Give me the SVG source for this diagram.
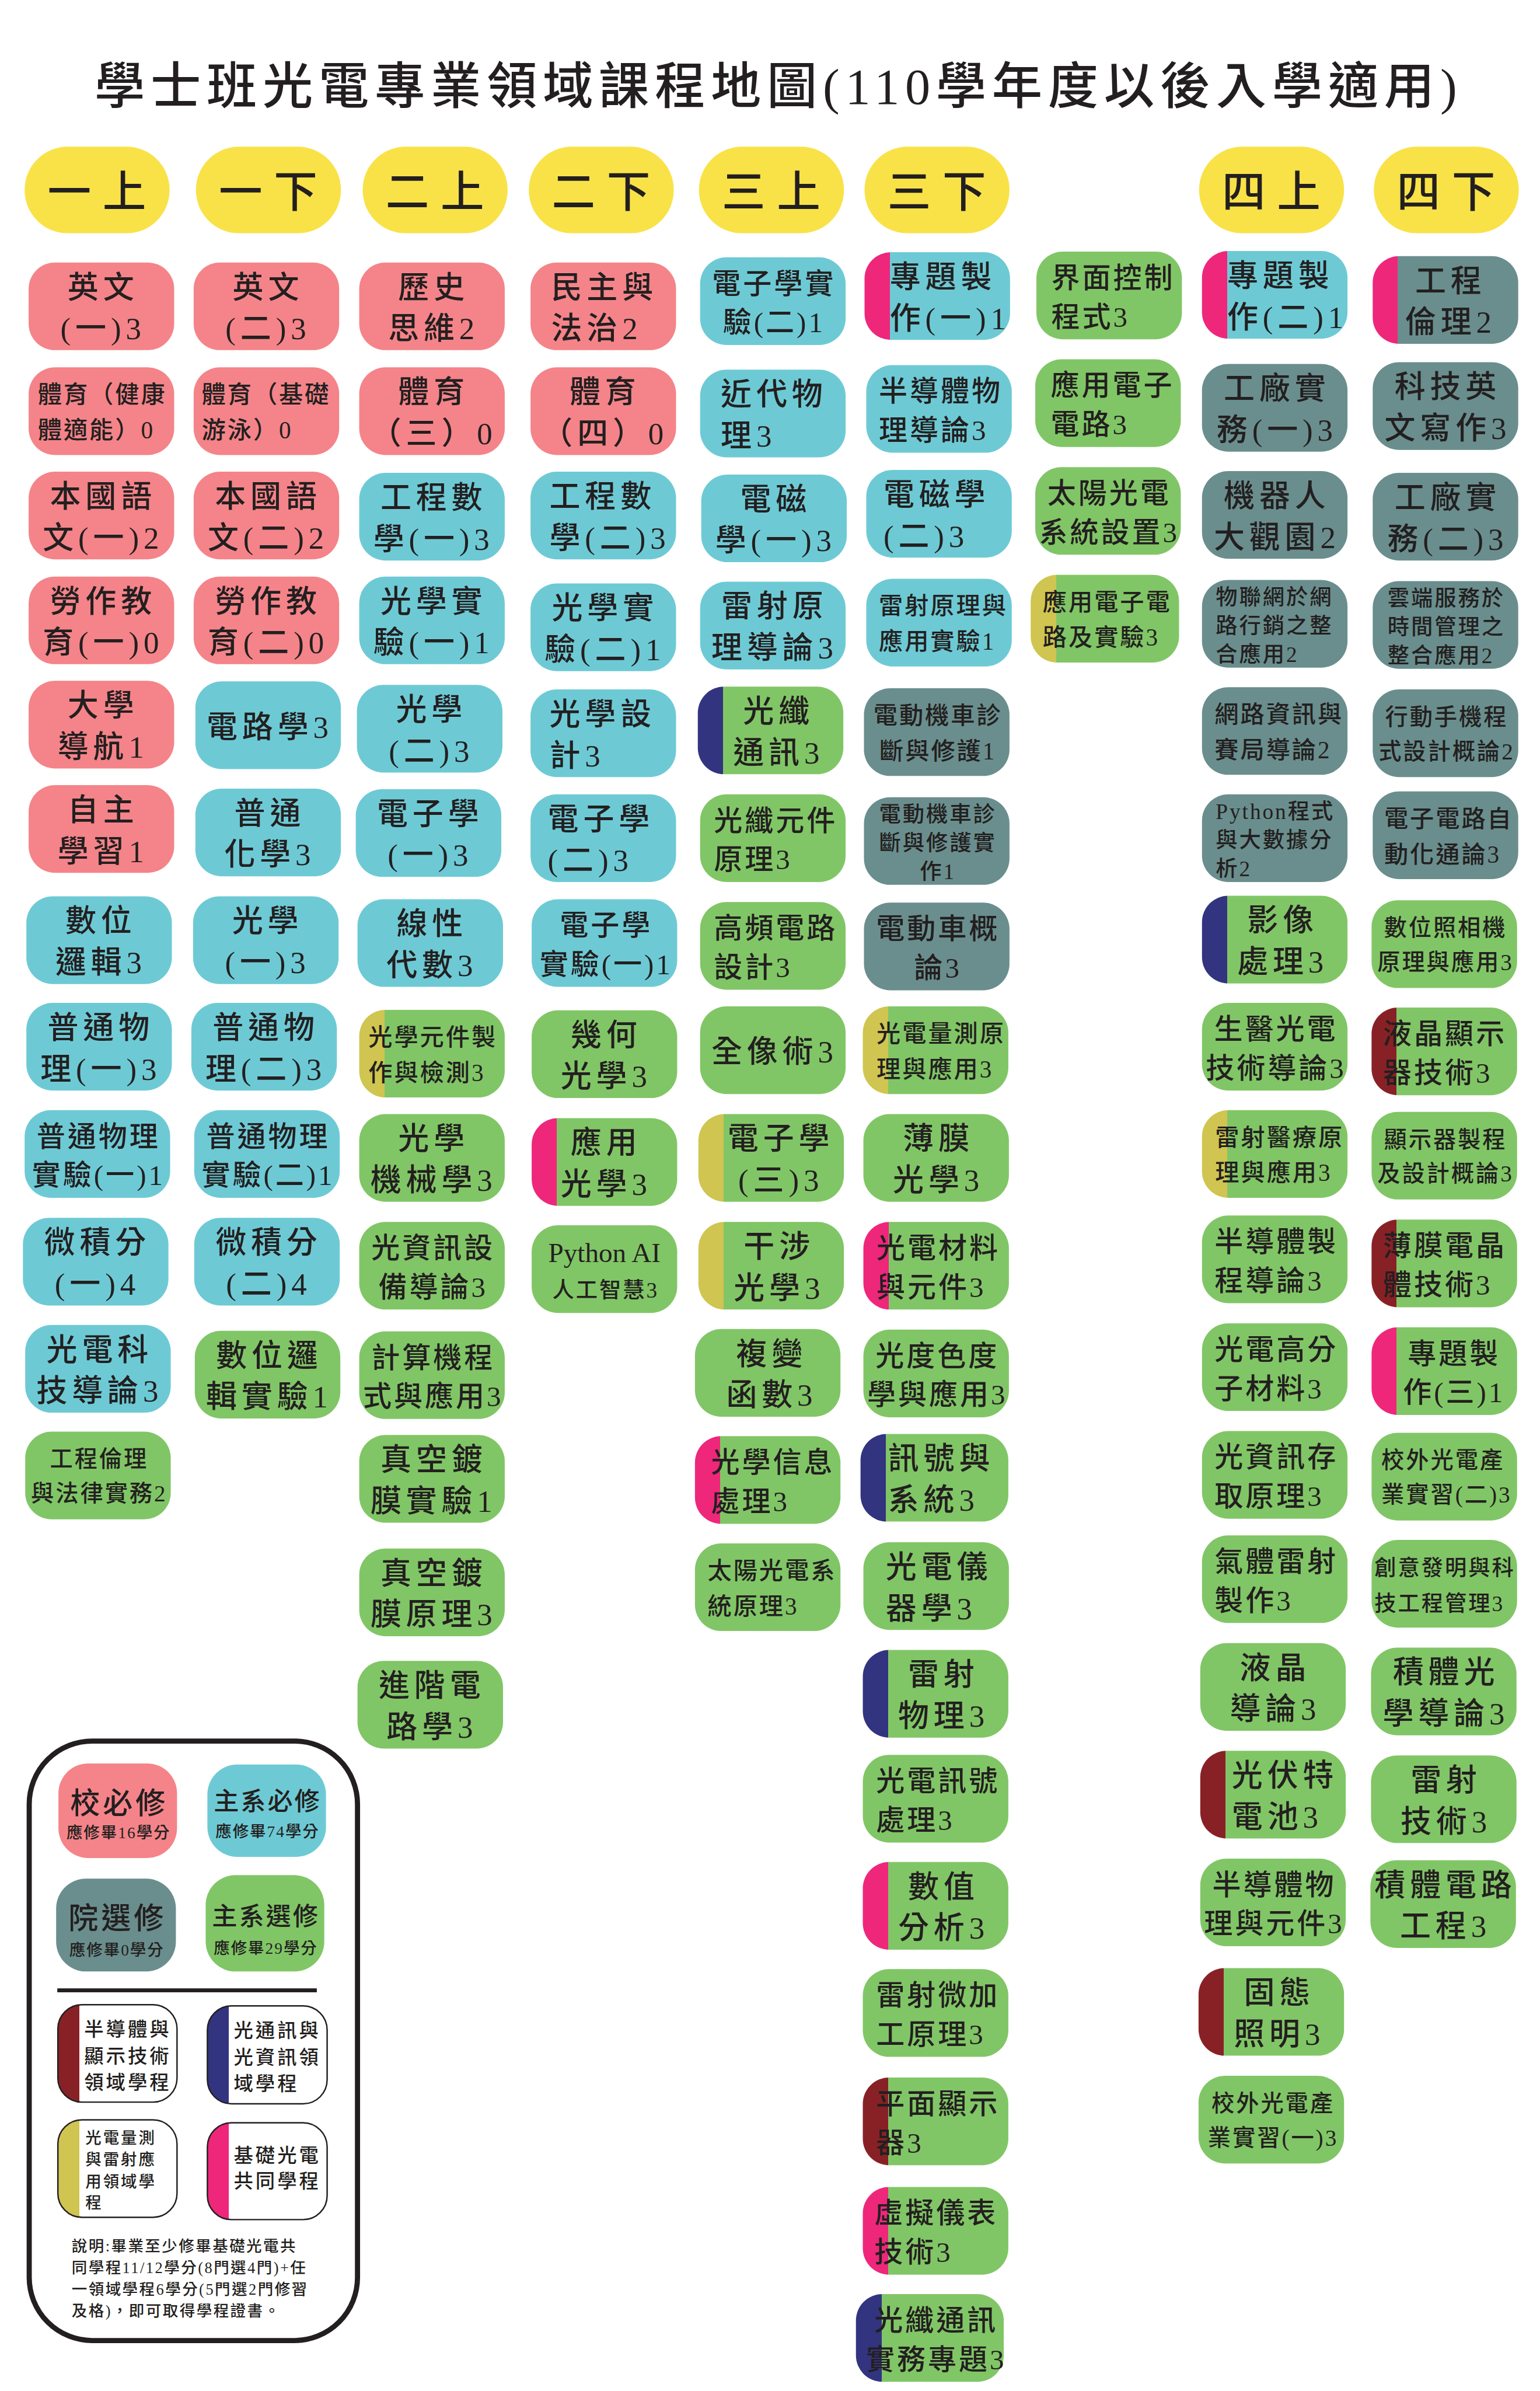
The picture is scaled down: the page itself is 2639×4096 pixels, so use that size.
<svg xmlns="http://www.w3.org/2000/svg" width="2639" height="4096" viewBox="0 0 2639 4096">
<defs>
<linearGradient id="gPB" x1="0" x2="1" y1="0" y2="0"><stop offset="0.173" stop-color="#ee277b"/><stop offset="0.173" stop-color="#6dcad5"/></linearGradient>
<linearGradient id="gPK" x1="0" x2="1" y1="0" y2="0"><stop offset="0.173" stop-color="#ee277b"/><stop offset="0.173" stop-color="#6a8e8d"/></linearGradient>
<linearGradient id="gPG" x1="0" x2="1" y1="0" y2="0"><stop offset="0.173" stop-color="#ee277b"/><stop offset="0.173" stop-color="#81c666"/></linearGradient>
<linearGradient id="gNG" x1="0" x2="1" y1="0" y2="0"><stop offset="0.173" stop-color="#323480"/><stop offset="0.173" stop-color="#81c666"/></linearGradient>
<linearGradient id="gYG" x1="0" x2="1" y1="0" y2="0"><stop offset="0.173" stop-color="#cfc550"/><stop offset="0.173" stop-color="#81c666"/></linearGradient>
<linearGradient id="gRG" x1="0" x2="1" y1="0" y2="0"><stop offset="0.173" stop-color="#882126"/><stop offset="0.173" stop-color="#81c666"/></linearGradient>
<linearGradient id="gRW" x1="0" x2="1" y1="0" y2="0"><stop offset="0.18" stop-color="#882126"/><stop offset="0.18" stop-color="#ffffff"/></linearGradient>
<linearGradient id="gNW" x1="0" x2="1" y1="0" y2="0"><stop offset="0.18" stop-color="#323480"/><stop offset="0.18" stop-color="#ffffff"/></linearGradient>
<linearGradient id="gYW" x1="0" x2="1" y1="0" y2="0"><stop offset="0.18" stop-color="#cfc550"/><stop offset="0.18" stop-color="#ffffff"/></linearGradient>
<linearGradient id="gPW" x1="0" x2="1" y1="0" y2="0"><stop offset="0.18" stop-color="#ee277b"/><stop offset="0.18" stop-color="#ffffff"/></linearGradient>
</defs>
<style>
text{font-family:"Liberation Serif","Noto Sans CJK TC",serif;fill:#231f20;font-weight:500}
.c{text-anchor:middle}
.A{font-size:54px;letter-spacing:8px}
.B{font-size:50px;letter-spacing:4px}
.C{font-size:42px;letter-spacing:3px}
.D{font-size:40px;letter-spacing:3px}
.E{font-size:38px;letter-spacing:3px}
.H{font-size:76px;letter-spacing:20px}
.Py{font-size:48px}
.L52{font-size:52px;letter-spacing:5px}
.L44{font-size:44px;letter-spacing:3px}
.s28{font-size:28px;letter-spacing:2px}
.s34{font-size:34px;letter-spacing:4px}
.s28b{font-size:28px;letter-spacing:3px}
.s27{font-size:27px;letter-spacing:2.5px}
.p{fill:#f48489}.b{fill:#6dcad5}.k{fill:#6a8e8d}.g{fill:#81c666}.h{fill:#f9e247}
.lg{stroke:#231f20;stroke-width:2.5}
</style>
<rect width="2639" height="4096" fill="#ffffff"/>
<g transform="scale(0.98177)">
<g id="title"><text x="165" y="181" font-size="88" textLength="2378" lengthAdjust="spacing">學士班光電專業領域課程地圖(110學年度以後入學適用)</text></g>

<g id="headers">
<g id="h-1a"><rect class="h" x="43" y="256" width="253" height="151" rx="75"/><text class="H c" x="179" y="362">一上</text></g>
<g id="h-1b"><rect class="h" x="342" y="256" width="253" height="151" rx="75"/><text class="H c" x="478" y="362">一下</text></g>
<g id="h-2a"><rect class="h" x="633" y="256" width="253" height="151" rx="75"/><text class="H c" x="769" y="362">二上</text></g>
<g id="h-2b"><rect class="h" x="923" y="256" width="253" height="151" rx="75"/><text class="H c" x="1059" y="362">二下</text></g>
<g id="h-3a"><rect class="h" x="1220" y="256" width="253" height="151" rx="75"/><text class="H c" x="1356" y="362">三上</text></g>
<g id="h-3b"><rect class="h" x="1509" y="256" width="253" height="151" rx="75"/><text class="H c" x="1645" y="362">三下</text></g>
<g id="h-4a"><rect class="h" x="2093" y="256" width="253" height="151" rx="75"/><text class="H c" x="2229" y="362">四上</text></g>
<g id="h-4b"><rect class="h" x="2398" y="256" width="253" height="151" rx="75"/><text class="H c" x="2534" y="362">四下</text></g>
</g>

<g id="col0">
<g id="n-c0-1"><rect class="p" x="50" y="458" width="254" height="153" rx="46"/><text class="A c"><tspan x="180" y="520">英文</tspan><tspan x="180" y="592">(一)3</tspan></text></g>
<g id="n-c0-2"><rect class="p" x="50" y="641" width="254" height="153" rx="46"/><text class="C"><tspan x="66" y="703">體育（健康</tspan><tspan x="66" y="765">體適能）0</tspan></text></g>
<g id="n-c0-3"><rect class="p" x="50" y="823" width="254" height="153" rx="46"/><text class="A c"><tspan x="180" y="885">本國語</tspan><tspan x="180" y="957">文(一)2</tspan></text></g>
<g id="n-c0-4"><rect class="p" x="50" y="1006" width="254" height="153" rx="46"/><text class="A c"><tspan x="180" y="1068">勞作教</tspan><tspan x="180" y="1140">育(一)0</tspan></text></g>
<g id="n-c0-5"><rect class="p" x="50" y="1188" width="254" height="153" rx="46"/><text class="A c"><tspan x="180" y="1250">大學</tspan><tspan x="180" y="1322">導航1</tspan></text></g>
<g id="n-c0-6"><rect class="p" x="50" y="1370" width="254" height="153" rx="46"/><text class="A c"><tspan x="180" y="1432">自主</tspan><tspan x="180" y="1504">學習1</tspan></text></g>
<g id="n-c0-7"><rect class="b" x="46" y="1564" width="254" height="153" rx="46"/><text class="A c"><tspan x="176" y="1626">數位</tspan><tspan x="176" y="1698">邏輯3</tspan></text></g>
<g id="n-c0-8"><rect class="b" x="46" y="1750" width="254" height="153" rx="46"/><text class="A c"><tspan x="176" y="1812">普通物</tspan><tspan x="176" y="1884">理(一)3</tspan></text></g>
<g id="n-c0-9"><rect class="b" x="43" y="1937" width="254" height="153" rx="46"/><text class="B c"><tspan x="172" y="2000">普通物理</tspan><tspan x="172" y="2068">實驗(一)1</tspan></text></g>
<g id="n-c0-10"><rect class="b" x="40" y="2125" width="254" height="153" rx="46"/><text class="A c"><tspan x="170" y="2187">微積分</tspan><tspan x="170" y="2259">(一)4</tspan></text></g>
<g id="n-c0-11"><rect class="b" x="44" y="2312" width="254" height="153" rx="46"/><text class="A c"><tspan x="174" y="2374">光電科</tspan><tspan x="174" y="2446">技導論3</tspan></text></g>
<g id="n-c0-12"><rect class="g" x="44" y="2498" width="254" height="153" rx="46"/><text class="D c"><tspan x="173" y="2560">工程倫理</tspan><tspan x="173" y="2620">與法律實務2</tspan></text></g>
</g>

<g id="col1">
<g id="n-c1-1"><rect class="p" x="338" y="458" width="254" height="153" rx="46"/><text class="A c"><tspan x="468" y="520">英文</tspan><tspan x="468" y="592">(二)3</tspan></text></g>
<g id="n-c1-2"><rect class="p" x="338" y="641" width="254" height="153" rx="46"/><text class="C"><tspan x="352" y="703">體育（基礎</tspan><tspan x="352" y="765">游泳）0</tspan></text></g>
<g id="n-c1-3"><rect class="p" x="338" y="823" width="254" height="153" rx="46"/><text class="A c"><tspan x="468" y="885">本國語</tspan><tspan x="468" y="957">文(二)2</tspan></text></g>
<g id="n-c1-4"><rect class="p" x="338" y="1006" width="254" height="153" rx="46"/><text class="A c"><tspan x="468" y="1068">勞作教</tspan><tspan x="468" y="1140">育(二)0</tspan></text></g>
<g id="n-c1-5"><rect class="b" x="341" y="1189" width="254" height="153" rx="46"/><text class="A c" x="471" y="1287">電路學3</text></g>
<g id="n-c1-6"><rect class="b" x="341" y="1376" width="254" height="153" rx="46"/><text class="A c"><tspan x="471" y="1438">普通</tspan><tspan x="471" y="1510">化學3</tspan></text></g>
<g id="n-c1-7"><rect class="b" x="337" y="1564" width="254" height="153" rx="46"/><text class="A c"><tspan x="467" y="1626">光學</tspan><tspan x="467" y="1698">(一)3</tspan></text></g>
<g id="n-c1-8"><rect class="b" x="334" y="1750" width="254" height="153" rx="46"/><text class="A c"><tspan x="464" y="1812">普通物</tspan><tspan x="464" y="1884">理(二)3</tspan></text></g>
<g id="n-c1-9"><rect class="b" x="339" y="1937" width="254" height="153" rx="46"/><text class="B c"><tspan x="468" y="2000">普通物理</tspan><tspan x="468" y="2068">實驗(二)1</tspan></text></g>
<g id="n-c1-10"><rect class="b" x="339" y="2125" width="254" height="153" rx="46"/><text class="A c"><tspan x="469" y="2187">微積分</tspan><tspan x="469" y="2259">(二)4</tspan></text></g>
<g id="n-c1-11"><rect class="g" x="340" y="2322" width="254" height="153" rx="46"/><text class="A c"><tspan x="470" y="2384">數位邏</tspan><tspan x="470" y="2456">輯實驗1</tspan></text></g>
</g>

<g id="col2">
<g id="n-c2-1"><rect class="p" x="627" y="458" width="254" height="153" rx="46"/><text class="A c"><tspan x="757" y="520">歷史</tspan><tspan x="757" y="592">思維2</tspan></text></g>
<g id="n-c2-2"><rect class="p" x="627" y="641" width="254" height="153" rx="46"/><text class="A c"><tspan x="757" y="703">體育</tspan><tspan x="757" y="775">（三）0</tspan></text></g>
<g id="n-c2-3"><rect class="b" x="627" y="825" width="254" height="153" rx="46"/><text class="A c"><tspan x="757" y="887">工程數</tspan><tspan x="757" y="959">學(一)3</tspan></text></g>
<g id="n-c2-4"><rect class="b" x="627" y="1006" width="254" height="153" rx="46"/><text class="A c"><tspan x="757" y="1068">光學實</tspan><tspan x="757" y="1140">驗(一)1</tspan></text></g>
<g id="n-c2-5"><rect class="b" x="623" y="1195" width="254" height="153" rx="46"/><text class="A c"><tspan x="753" y="1257">光學</tspan><tspan x="753" y="1329">(二)3</tspan></text></g>
<g id="n-c2-6"><rect class="b" x="621" y="1377" width="254" height="153" rx="46"/><text class="A c"><tspan x="751" y="1439">電子學</tspan><tspan x="751" y="1511">(一)3</tspan></text></g>
<g id="n-c2-7"><rect class="b" x="624" y="1569" width="254" height="153" rx="46"/><text class="A c"><tspan x="754" y="1631">線性</tspan><tspan x="754" y="1703">代數3</tspan></text></g>
<g id="n-c2-8"><rect fill="url(#gYG)" x="627" y="1762" width="254" height="153" rx="46"/><text class="C"><tspan x="643" y="1824">光學元件製</tspan><tspan x="643" y="1886">作與檢測3</tspan></text></g>
<g id="n-c2-9"><rect class="g" x="627" y="1944" width="254" height="153" rx="46"/><text class="A c"><tspan x="757" y="2006">光學</tspan><tspan x="757" y="2078">機械學3</tspan></text></g>
<g id="n-c2-10"><rect class="g" x="627" y="2132" width="254" height="153" rx="46"/><text class="B c"><tspan x="756" y="2195">光資訊設</tspan><tspan x="756" y="2263">備導論3</tspan></text></g>
<g id="n-c2-11"><rect class="g" x="627" y="2323" width="254" height="153" rx="46"/><text class="B c"><tspan x="756" y="2386">計算機程</tspan><tspan x="756" y="2454">式與應用3</tspan></text></g>
<g id="n-c2-12"><rect class="g" x="627" y="2504" width="254" height="153" rx="46"/><text class="A c"><tspan x="757" y="2566">真空鍍</tspan><tspan x="757" y="2638">膜實驗1</tspan></text></g>
<g id="n-c2-13"><rect class="g" x="627" y="2702" width="254" height="153" rx="46"/><text class="A c"><tspan x="757" y="2764">真空鍍</tspan><tspan x="757" y="2836">膜原理3</tspan></text></g>
<g id="n-c2-14"><rect class="g" x="624" y="2898" width="254" height="153" rx="46"/><text class="A c"><tspan x="754" y="2960">進階電</tspan><tspan x="754" y="3032">路學3</tspan></text></g>
</g>

<g id="col3">
<g id="n-c3-1"><rect class="p" x="926" y="458" width="254" height="153" rx="46"/><text class="A"><tspan x="962" y="520">民主與</tspan><tspan x="962" y="592">法治2</tspan></text></g>
<g id="n-c3-2"><rect class="p" x="926" y="641" width="254" height="153" rx="46"/><text class="A c"><tspan x="1056" y="703">體育</tspan><tspan x="1056" y="775">（四）0</tspan></text></g>
<g id="n-c3-3"><rect class="b" x="926" y="823" width="254" height="153" rx="46"/><text class="A"><tspan x="959" y="885">工程數</tspan><tspan x="959" y="957">學(二)3</tspan></text></g>
<g id="n-c3-4"><rect class="b" x="926" y="1018" width="254" height="153" rx="46"/><text class="A c"><tspan x="1056" y="1080">光學實</tspan><tspan x="1056" y="1152">驗(二)1</tspan></text></g>
<g id="n-c3-5"><rect class="b" x="926" y="1203" width="254" height="153" rx="46"/><text class="A"><tspan x="959" y="1265">光學設</tspan><tspan x="959" y="1337">計3</tspan></text></g>
<g id="n-c3-6"><rect class="b" x="926" y="1386" width="254" height="153" rx="46"/><text class="A"><tspan x="956" y="1448">電子學</tspan><tspan x="956" y="1520">(二)3</tspan></text></g>
<g id="n-c3-7"><rect class="b" x="928" y="1569" width="254" height="153" rx="46"/><text class="B c"><tspan x="1058" y="1632">電子學</tspan><tspan x="1058" y="1700">實驗(一)1</tspan></text></g>
<g id="n-c3-8"><rect class="g" x="928" y="1763" width="254" height="153" rx="46"/><text class="A c"><tspan x="1058" y="1825">幾何</tspan><tspan x="1058" y="1897">光學3</tspan></text></g>
<g id="n-c3-9"><rect fill="url(#gPG)" x="928" y="1951" width="254" height="153" rx="46"/><text class="A c"><tspan x="1058" y="2013">應用</tspan><tspan x="1058" y="2085">光學3</tspan></text></g>
<g id="n-c3-10"><rect class="g" x="928" y="2138" width="254" height="153" rx="46"/><text class="Py c" x="1055" y="2202">Python AI</text><text class="E c" x="1057" y="2264">人工智慧3</text></g>
</g>

<g id="col4">
<g id="n-c4-1"><rect class="b" x="1222" y="449" width="254" height="153" rx="46"/><text class="B c"><tspan x="1351" y="512">電子學實</tspan><tspan x="1351" y="580">驗(二)1</tspan></text></g>
<g id="n-c4-2"><rect class="b" x="1222" y="645" width="254" height="153" rx="46"/><text class="A"><tspan x="1258" y="707">近代物</tspan><tspan x="1258" y="779">理3</tspan></text></g>
<g id="n-c4-3"><rect class="b" x="1224" y="828" width="254" height="153" rx="46"/><text class="A c"><tspan x="1354" y="890">電磁</tspan><tspan x="1354" y="962">學(一)3</tspan></text></g>
<g id="n-c4-4"><rect class="b" x="1222" y="1015" width="254" height="153" rx="46"/><text class="A c"><tspan x="1352" y="1077">雷射原</tspan><tspan x="1352" y="1149">理導論3</tspan></text></g>
<g id="n-c4-5"><rect fill="url(#gNG)" x="1218" y="1198" width="254" height="153" rx="46"/><text class="A c"><tspan x="1359" y="1260">光纖</tspan><tspan x="1359" y="1332">通訊3</tspan></text></g>
<g id="n-c4-6"><rect class="g" x="1222" y="1386" width="254" height="153" rx="46"/><text class="B"><tspan x="1246" y="1449">光纖元件</tspan><tspan x="1246" y="1517">原理3</tspan></text></g>
<g id="n-c4-7"><rect class="g" x="1222" y="1574" width="254" height="153" rx="46"/><text class="B"><tspan x="1246" y="1637">高頻電路</tspan><tspan x="1246" y="1705">設計3</tspan></text></g>
<g id="n-c4-8"><rect class="g" x="1222" y="1756" width="254" height="153" rx="46"/><text class="A c" x="1352" y="1854">全像術3</text></g>
<g id="n-c4-9"><rect fill="url(#gYG)" x="1219" y="1944" width="254" height="153" rx="46"/><text class="A c"><tspan x="1363" y="2006">電子學</tspan><tspan x="1363" y="2078">(三)3</tspan></text></g>
<g id="n-c4-10"><rect fill="url(#gYG)" x="1219" y="2132" width="254" height="153" rx="46"/><text class="A c"><tspan x="1360" y="2194">干涉</tspan><tspan x="1360" y="2266">光學3</tspan></text></g>
<g id="n-c4-11"><rect class="g" x="1213" y="2319" width="254" height="153" rx="46"/><text class="A c"><tspan x="1347" y="2381">複變</tspan><tspan x="1347" y="2453">函數3</tspan></text></g>
<g id="n-c4-12"><rect fill="url(#gPG)" x="1213" y="2506" width="254" height="153" rx="46"/><text class="B"><tspan x="1241" y="2569">光學信息</tspan><tspan x="1241" y="2637">處理3</tspan></text></g>
<g id="n-c4-13"><rect class="g" x="1213" y="2693" width="254" height="153" rx="46"/><text class="C"><tspan x="1235" y="2755">太陽光電系</tspan><tspan x="1235" y="2817">統原理3</tspan></text></g>
</g>

<g id="col5">
<g id="n-c5-1"><rect fill="url(#gPB)" x="1509" y="440" width="254" height="153" rx="46"/><text class="A"><tspan x="1553" y="502">專題製</tspan><tspan x="1553" y="574">作(一)1</tspan></text></g>
<g id="n-c5-2"><rect class="b" x="1512" y="637" width="254" height="153" rx="46"/><text class="B"><tspan x="1534" y="700">半導體物</tspan><tspan x="1534" y="768">理導論3</tspan></text></g>
<g id="n-c5-3"><rect class="b" x="1512" y="820" width="254" height="153" rx="46"/><text class="A"><tspan x="1542" y="882">電磁學</tspan><tspan x="1542" y="954">(二)3</tspan></text></g>
<g id="n-c5-4"><rect class="b" x="1512" y="1010" width="254" height="153" rx="46"/><text class="C"><tspan x="1534" y="1072">雷射原理與</tspan><tspan x="1534" y="1134">應用實驗1</tspan></text></g>
<g id="n-c5-5"><rect class="k" x="1508" y="1201" width="254" height="153" rx="46"/><text class="C c"><tspan x="1637" y="1263">電動機車診</tspan><tspan x="1637" y="1325">斷與修護1</tspan></text></g>
<g id="n-c5-6"><rect class="k" x="1508" y="1391" width="254" height="153" rx="46"/><text class="E c"><tspan x="1637" y="1434">電動機車診</tspan><tspan x="1637" y="1484">斷與修護實</tspan><tspan x="1637" y="1534">作1</tspan></text></g>
<g id="n-c5-7"><rect class="k" x="1508" y="1575" width="254" height="153" rx="46"/><text class="B c"><tspan x="1637" y="1638">電動車概</tspan><tspan x="1637" y="1706">論3</tspan></text></g>
<g id="n-c5-8"><rect fill="url(#gYG)" x="1506" y="1756" width="254" height="153" rx="46"/><text class="C"><tspan x="1530" y="1818">光電量測原</tspan><tspan x="1530" y="1880">理與應用3</tspan></text></g>
<g id="n-c5-9"><rect class="g" x="1507" y="1944" width="254" height="153" rx="46"/><text class="A c"><tspan x="1638" y="2006">薄膜</tspan><tspan x="1638" y="2078">光學3</tspan></text></g>
<g id="n-c5-10"><rect fill="url(#gPG)" x="1507" y="2132" width="254" height="153" rx="46"/><text class="B"><tspan x="1530" y="2195">光電材料</tspan><tspan x="1530" y="2263">與元件3</tspan></text></g>
<g id="n-c5-11"><rect class="g" x="1507" y="2320" width="254" height="153" rx="46"/><text class="B c"><tspan x="1636" y="2383">光度色度</tspan><tspan x="1636" y="2451">學與應用3</tspan></text></g>
<g id="n-c5-12"><rect fill="url(#gNG)" x="1502" y="2502" width="258" height="153" rx="46"/><text class="A"><tspan x="1550" y="2564">訊號與</tspan><tspan x="1550" y="2636">系統3</tspan></text></g>
<g id="n-c5-13"><rect class="g" x="1507" y="2691" width="254" height="153" rx="46"/><text class="A"><tspan x="1546" y="2753">光電儀</tspan><tspan x="1546" y="2825">器學3</tspan></text></g>
<g id="n-c5-14"><rect fill="url(#gNG)" x="1506" y="2879" width="254" height="153" rx="46"/><text class="A c"><tspan x="1647" y="2941">雷射</tspan><tspan x="1647" y="3013">物理3</tspan></text></g>
<g id="n-c5-15"><rect class="g" x="1506" y="3062" width="254" height="153" rx="46"/><text class="B"><tspan x="1529" y="3125">光電訊號</tspan><tspan x="1529" y="3193">處理3</tspan></text></g>
<g id="n-c5-16"><rect fill="url(#gPG)" x="1506" y="3249" width="254" height="153" rx="46"/><text class="A c"><tspan x="1647" y="3311">數值</tspan><tspan x="1647" y="3383">分析3</tspan></text></g>
<g id="n-c5-17"><rect class="g" x="1506" y="3436" width="254" height="153" rx="46"/><text class="B"><tspan x="1529" y="3499">雷射微加</tspan><tspan x="1529" y="3567">工原理3</tspan></text></g>
<g id="n-c5-18"><rect fill="url(#gRG)" x="1506" y="3625" width="254" height="153" rx="46"/><text class="B"><tspan x="1529" y="3688">平面顯示</tspan><tspan x="1529" y="3756">器3</tspan></text></g>
<g id="n-c5-19"><rect fill="url(#gPG)" x="1506" y="3816" width="254" height="153" rx="46"/><text class="B"><tspan x="1526" y="3879">虛擬儀表</tspan><tspan x="1526" y="3947">技術3</tspan></text></g>
<g id="n-c5-20"><rect fill="url(#gNG)" x="1494" y="4003" width="258" height="153" rx="46"/><text class="B c"><tspan x="1634" y="4066">光纖通訊</tspan><tspan x="1634" y="4134">實務專題3</tspan></text></g>
</g>

<g id="col6">
<g id="n-c6-1"><rect class="g" x="1809" y="439" width="254" height="153" rx="46"/><text class="B"><tspan x="1835" y="502">界面控制</tspan><tspan x="1835" y="570">程式3</tspan></text></g>
<g id="n-c6-2"><rect class="g" x="1807" y="627" width="254" height="153" rx="46"/><text class="B"><tspan x="1834" y="690">應用電子</tspan><tspan x="1834" y="758">電路3</tspan></text></g>
<g id="n-c6-3"><rect class="g" x="1807" y="815" width="254" height="153" rx="46"/><text class="B c"><tspan x="1936" y="878">太陽光電</tspan><tspan x="1936" y="946">系統設置3</tspan></text></g>
<g id="n-c6-4"><rect fill="url(#gYG)" x="1799" y="1003" width="259" height="153" rx="46"/><text class="C"><tspan x="1820" y="1065">應用電子電</tspan><tspan x="1820" y="1127">路及實驗3</tspan></text></g>
</g>

<g id="col7">
<g id="n-c7-1"><rect fill="url(#gPB)" x="2098" y="438" width="254" height="153" rx="46"/><text class="A"><tspan x="2142" y="500">專題製</tspan><tspan x="2142" y="572">作(二)1</tspan></text></g>
<g id="n-c7-2"><rect class="k" x="2098" y="635" width="254" height="153" rx="46"/><text class="A c"><tspan x="2229" y="697">工廠實</tspan><tspan x="2229" y="769">務(一)3</tspan></text></g>
<g id="n-c7-3"><rect class="k" x="2098" y="822" width="254" height="153" rx="46"/><text class="A c"><tspan x="2229" y="884">機器人</tspan><tspan x="2229" y="956">大觀園2</tspan></text></g>
<g id="n-c7-4"><rect class="k" x="2098" y="1012" width="254" height="153" rx="46"/><text class="E"><tspan x="2122" y="1055">物聯網於網</tspan><tspan x="2122" y="1105">路行銷之整</tspan><tspan x="2122" y="1155">合應用2</tspan></text></g>
<g id="n-c7-5"><rect class="k" x="2098" y="1199" width="254" height="153" rx="46"/><text class="C"><tspan x="2120" y="1261">網路資訊與</tspan><tspan x="2120" y="1323">賽局導論2</tspan></text></g>
<g id="n-c7-6"><rect class="k" x="2098" y="1386" width="254" height="153" rx="46"/><text class="E"><tspan x="2122" y="1429">Python程式</tspan><tspan x="2122" y="1479">與大數據分</tspan><tspan x="2122" y="1529">析2</tspan></text></g>
<g id="n-c7-7"><rect fill="url(#gNG)" x="2098" y="1563" width="254" height="153" rx="46"/><text class="A c"><tspan x="2239" y="1625">影像</tspan><tspan x="2239" y="1697">處理3</tspan></text></g>
<g id="n-c7-8"><rect class="g" x="2098" y="1750" width="254" height="153" rx="46"/><text class="B c"><tspan x="2227" y="1813">生醫光電</tspan><tspan x="2227" y="1881">技術導論3</tspan></text></g>
<g id="n-c7-9"><rect fill="url(#gYG)" x="2098" y="1937" width="254" height="153" rx="46"/><text class="C"><tspan x="2121" y="1999">雷射醫療原</tspan><tspan x="2121" y="2061">理與應用3</tspan></text></g>
<g id="n-c7-10"><rect class="g" x="2098" y="2121" width="254" height="153" rx="46"/><text class="B"><tspan x="2120" y="2184">半導體製</tspan><tspan x="2120" y="2252">程導論3</tspan></text></g>
<g id="n-c7-11"><rect class="g" x="2098" y="2309" width="254" height="153" rx="46"/><text class="B"><tspan x="2120" y="2372">光電高分</tspan><tspan x="2120" y="2440">子材料3</tspan></text></g>
<g id="n-c7-12"><rect class="g" x="2098" y="2497" width="254" height="153" rx="46"/><text class="B"><tspan x="2120" y="2560">光資訊存</tspan><tspan x="2120" y="2628">取原理3</tspan></text></g>
<g id="n-c7-13"><rect class="g" x="2098" y="2679" width="254" height="153" rx="46"/><text class="B"><tspan x="2120" y="2742">氣體雷射</tspan><tspan x="2120" y="2810">製作3</tspan></text></g>
<g id="n-c7-14"><rect class="g" x="2095" y="2867" width="254" height="153" rx="46"/><text class="A c"><tspan x="2226" y="2929">液晶</tspan><tspan x="2226" y="3001">導論3</tspan></text></g>
<g id="n-c7-15"><rect fill="url(#gRG)" x="2095" y="3055" width="254" height="153" rx="46"/><text class="A"><tspan x="2150" y="3117">光伏特</tspan><tspan x="2150" y="3189">電池3</tspan></text></g>
<g id="n-c7-16"><rect class="g" x="2095" y="3243" width="254" height="153" rx="46"/><text class="B c"><tspan x="2224" y="3306">半導體物</tspan><tspan x="2224" y="3374">理與元件3</tspan></text></g>
<g id="n-c7-17"><rect fill="url(#gRG)" x="2092" y="3434" width="254" height="153" rx="46"/><text class="A c"><tspan x="2233" y="3496">固態</tspan><tspan x="2233" y="3568">照明3</tspan></text></g>
<g id="n-c7-18"><rect class="g" x="2092" y="3622" width="254" height="153" rx="46"/><text class="D c"><tspan x="2222" y="3684">校外光電產</tspan><tspan x="2222" y="3744">業實習(一)3</tspan></text></g>
</g>

<g id="col8">
<g id="n-c8-1"><rect fill="url(#gPK)" x="2396" y="447" width="254" height="153" rx="46"/><text class="A c"><tspan x="2532" y="509">工程</tspan><tspan x="2532" y="581">倫理2</tspan></text></g>
<g id="n-c8-2"><rect class="k" x="2396" y="632" width="254" height="153" rx="46"/><text class="A c"><tspan x="2527" y="694">科技英</tspan><tspan x="2527" y="766">文寫作3</tspan></text></g>
<g id="n-c8-3"><rect class="k" x="2396" y="825" width="254" height="153" rx="46"/><text class="A c"><tspan x="2527" y="887">工廠實</tspan><tspan x="2527" y="959">務(二)3</tspan></text></g>
<g id="n-c8-4"><rect class="k" x="2396" y="1014" width="254" height="153" rx="46"/><text class="E"><tspan x="2422" y="1057">雲端服務於</tspan><tspan x="2422" y="1107">時間管理之</tspan><tspan x="2422" y="1157">整合應用2</tspan></text></g>
<g id="n-c8-5"><rect class="k" x="2396" y="1203" width="254" height="153" rx="46"/><text class="D c"><tspan x="2525" y="1265">行動手機程</tspan><tspan x="2525" y="1325">式設計概論2</tspan></text></g>
<g id="n-c8-6"><rect class="k" x="2396" y="1381" width="254" height="153" rx="46"/><text class="C"><tspan x="2416" y="1443">電子電路自</tspan><tspan x="2416" y="1505">動化通論3</tspan></text></g>
<g id="n-c8-7"><rect class="g" x="2394" y="1571" width="254" height="153" rx="46"/><text class="D c"><tspan x="2523" y="1633">數位照相機</tspan><tspan x="2523" y="1693">原理與應用3</tspan></text></g>
<g id="n-c8-8"><rect fill="url(#gRG)" x="2394" y="1758" width="254" height="153" rx="46"/><text class="B"><tspan x="2414" y="1821">液晶顯示</tspan><tspan x="2414" y="1889">器技術3</tspan></text></g>
<g id="n-c8-9"><rect class="g" x="2394" y="1940" width="254" height="153" rx="46"/><text class="D c"><tspan x="2523" y="2002">顯示器製程</tspan><tspan x="2523" y="2062">及設計概論3</tspan></text></g>
<g id="n-c8-10"><rect fill="url(#gRG)" x="2394" y="2128" width="254" height="153" rx="46"/><text class="B"><tspan x="2414" y="2191">薄膜電晶</tspan><tspan x="2414" y="2259">體技術3</tspan></text></g>
<g id="n-c8-11"><rect fill="url(#gPG)" x="2394" y="2316" width="254" height="153" rx="46"/><text class="B c"><tspan x="2538" y="2379">專題製</tspan><tspan x="2538" y="2447">作(三)1</tspan></text></g>
<g id="n-c8-12"><rect class="g" x="2394" y="2500" width="254" height="153" rx="46"/><text class="D"><tspan x="2411" y="2562">校外光電產</tspan><tspan x="2411" y="2622">業實習(二)3</tspan></text></g>
<g id="n-c8-13"><rect class="g" x="2394" y="2687" width="254" height="153" rx="46"/><text class="E"><tspan x="2399" y="2749">創意發明與科</tspan><tspan x="2399" y="2811">技工程管理3</tspan></text></g>
<g id="n-c8-14"><rect class="g" x="2393" y="2875" width="254" height="153" rx="46"/><text class="A c"><tspan x="2524" y="2937">積體光</tspan><tspan x="2524" y="3009">學導論3</tspan></text></g>
<g id="n-c8-15"><rect class="g" x="2393" y="3063" width="254" height="153" rx="46"/><text class="A c"><tspan x="2524" y="3125">雷射</tspan><tspan x="2524" y="3197">技術3</tspan></text></g>
<g id="n-c8-16"><rect class="g" x="2392" y="3246" width="254" height="153" rx="46"/><text class="A c"><tspan x="2523" y="3308">積體電路</tspan><tspan x="2523" y="3380">工程3</tspan></text></g>
</g>

<g id="legend">
<rect x="51" y="3038" width="573" height="1046" rx="110" fill="#ffffff" stroke="#231f20" stroke-width="9"/>
<g id="lg-school"><rect class="p" x="102" y="3077" width="207" height="165" rx="52"/><text class="L52 c" x="208" y="3165">校必修</text><text class="s28 c" x="207" y="3207">應修畢16學分</text></g>
<g id="lg-major"><rect class="b" x="362" y="3079" width="207" height="161" rx="52"/><text class="L44 c" x="467" y="3159">主系必修</text><text class="s28 c" x="467" y="3205">應修畢74學分</text></g>
<g id="lg-college"><rect class="k" x="98" y="3278" width="209" height="162" rx="52"/><text class="L52 c" x="205" y="3365">院選修</text><text class="s28 c" x="204" y="3412">應修畢0學分</text></g>
<g id="lg-elective"><rect class="g" x="359" y="3272" width="207" height="168" rx="52"/><text class="L44 c" x="464" y="3359">主系選修</text><text class="s28 c" x="464" y="3409">應修畢29學分</text></g>
<line x1="100" y1="3473" x2="553" y2="3473" stroke="#231f20" stroke-width="7"/>
<g id="lg-semi"><rect class="lg" fill="url(#gRW)" x="101" y="3498" width="208" height="170" rx="42"/><text class="s34"><tspan x="147" y="3553">半導體與</tspan><tspan x="147" y="3600">顯示技術</tspan><tspan x="147" y="3645">領域學程</tspan></text></g>
<g id="lg-comm"><rect class="lg" fill="url(#gNW)" x="362" y="3500" width="209" height="171" rx="42"/><text class="s34"><tspan x="408" y="3555">光通訊與</tspan><tspan x="408" y="3602">光資訊領</tspan><tspan x="408" y="3647">域學程</tspan></text></g>
<g id="lg-laser"><rect class="lg" fill="url(#gYW)" x="101" y="3699" width="208" height="170" rx="42"/><text class="s28b"><tspan x="149" y="3740">光電量測</tspan><tspan x="149" y="3778">與雷射應</tspan><tspan x="149" y="3817">用領域學</tspan><tspan x="149" y="3853">程</tspan></text></g>
<g id="lg-basic"><rect class="lg" fill="url(#gPW)" x="362" y="3704" width="209" height="169" rx="42"/><text class="s34"><tspan x="408" y="3773">基礎光電</tspan><tspan x="408" y="3818">共同學程</tspan></text></g>
<text class="s27"><tspan x="125" y="3929">說明:畢業至少修畢基礎光電共</tspan><tspan x="125" y="3966">同學程11/12學分(8門選4門)+任</tspan><tspan x="125" y="4004">一領域學程6學分(5門選2門修習</tspan><tspan x="125" y="4042">及格)，即可取得學程證書。</tspan></text>
</g>
</g>
</svg>
